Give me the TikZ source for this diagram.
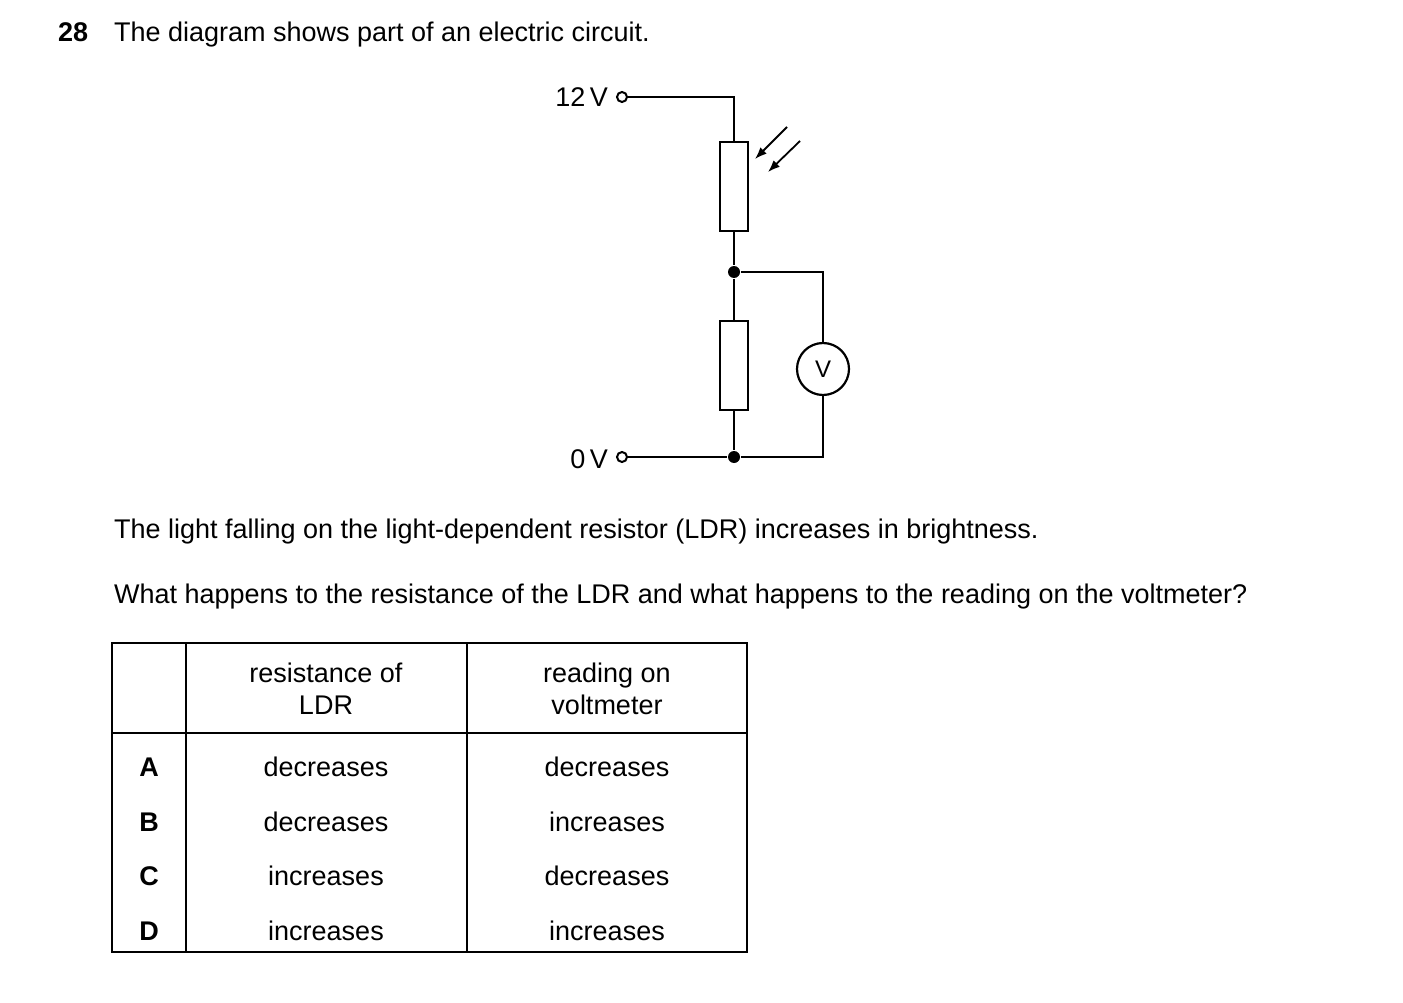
\documentclass[tikz,border=0pt]{standalone}
\usepackage{fontspec}
\setmainfont{Liberation Sans}
\usetikzlibrary{arrows.meta}
\begin{document}
\begin{tikzpicture}[x=1pt,y=-1pt,line width=2.2pt,
  txt/.style={font=\fontsize{27}{32}\selectfont,inner sep=0pt},
  res/.style={draw,line width=2.2pt,minimum width=28pt,minimum height=89pt,inner sep=0pt},
  term/.style={circle,draw,line width=2pt,minimum size=10pt,inner sep=0pt},
  dot/.style={circle,fill,minimum size=12pt,inner sep=0pt},
  cell/.style={txt,align=center}]
\useasboundingbox (0,0) rectangle (1403,1003);
% heading
\node[txt,anchor=base west,font=\bfseries\fontsize{27}{32}\selectfont] (num) at (57,42) {28};
\node[txt,anchor=base west] (head) at (113,42) {The diagram shows part of an electric circuit.};
% circuit
\node[term] (t12) at (622,97) {};
\node[term] (t0) at (622,457) {};
\node[txt,anchor=east] (l12) at (609,97) {12\,V};
\node[txt,anchor=east] (l0) at (609,459) {0\,V};
\node[res] (ldr) at (734,186.5) {};
\node[res] (r) at (734,365.5) {};
\node[dot] (j1) at (734,272) {};
\node[dot] (j2) at (734,457) {};
\node[circle,draw,line width=2.2pt,minimum size=52pt,inner sep=0pt,font=\fontsize{24}{28}\selectfont] (vm) at (823,369) {V};
\coordinate (c1) at (734,97);
\coordinate (c2) at (823,272);
\coordinate (c3) at (823,457);
\draw (t12.east) -- (c1) -- (ldr.north);
\draw (ldr.south) -- (j1) -- (r.north);
\draw (r.south) -- (j2);
\draw (t0.east) -- (j2) -- (c3) -- (vm.south);
\draw (j1) -- (c2) -- (vm.north);
\coordinate (a1s) at (787,127); \coordinate (a1e) at (755,159);
\coordinate (a2s) at (800,141); \coordinate (a2e) at (768,172);
\draw[line width=1.8pt,-{Latex[length=12pt,width=9pt]}] (a1s) -- (a1e);
\draw[line width=1.8pt,-{Latex[length=12pt,width=9pt]}] (a2s) -- (a2e);
% text
\node[txt,anchor=base west] (q1) at (113,538) {The light falling on the light-dependent resistor (LDR) increases in brightness.};
\node[txt,anchor=base west] (q2) at (113,603) {What happens to the resistance of the LDR and what happens to the reading on the voltmeter?};
% table
\draw[line width=1.5pt] (112,643) rectangle (747,952);
\draw[line width=1.5pt] (186,643) -- (186,952);
\draw[line width=1.5pt] (467,643) -- (467,952);
\draw[line width=1.5pt] (112,733) -- (747,733);
\node[cell] (h1) at (326,689) {resistance of\\LDR};
\node[cell] (h2) at (607,689) {reading on\\voltmeter};
\foreach \l/\a/\b/\y in {A/decreases/decreases/767,B/decreases/increases/822,C/increases/decreases/876,D/increases/increases/931}{
  \node[txt,font=\bfseries\fontsize{27}{32}\selectfont] at (149,\y) {\l};
  \node[txt] at (326,\y) {\a};
  \node[txt] at (607,\y) {\b};
}
\end{tikzpicture}
\end{document}
